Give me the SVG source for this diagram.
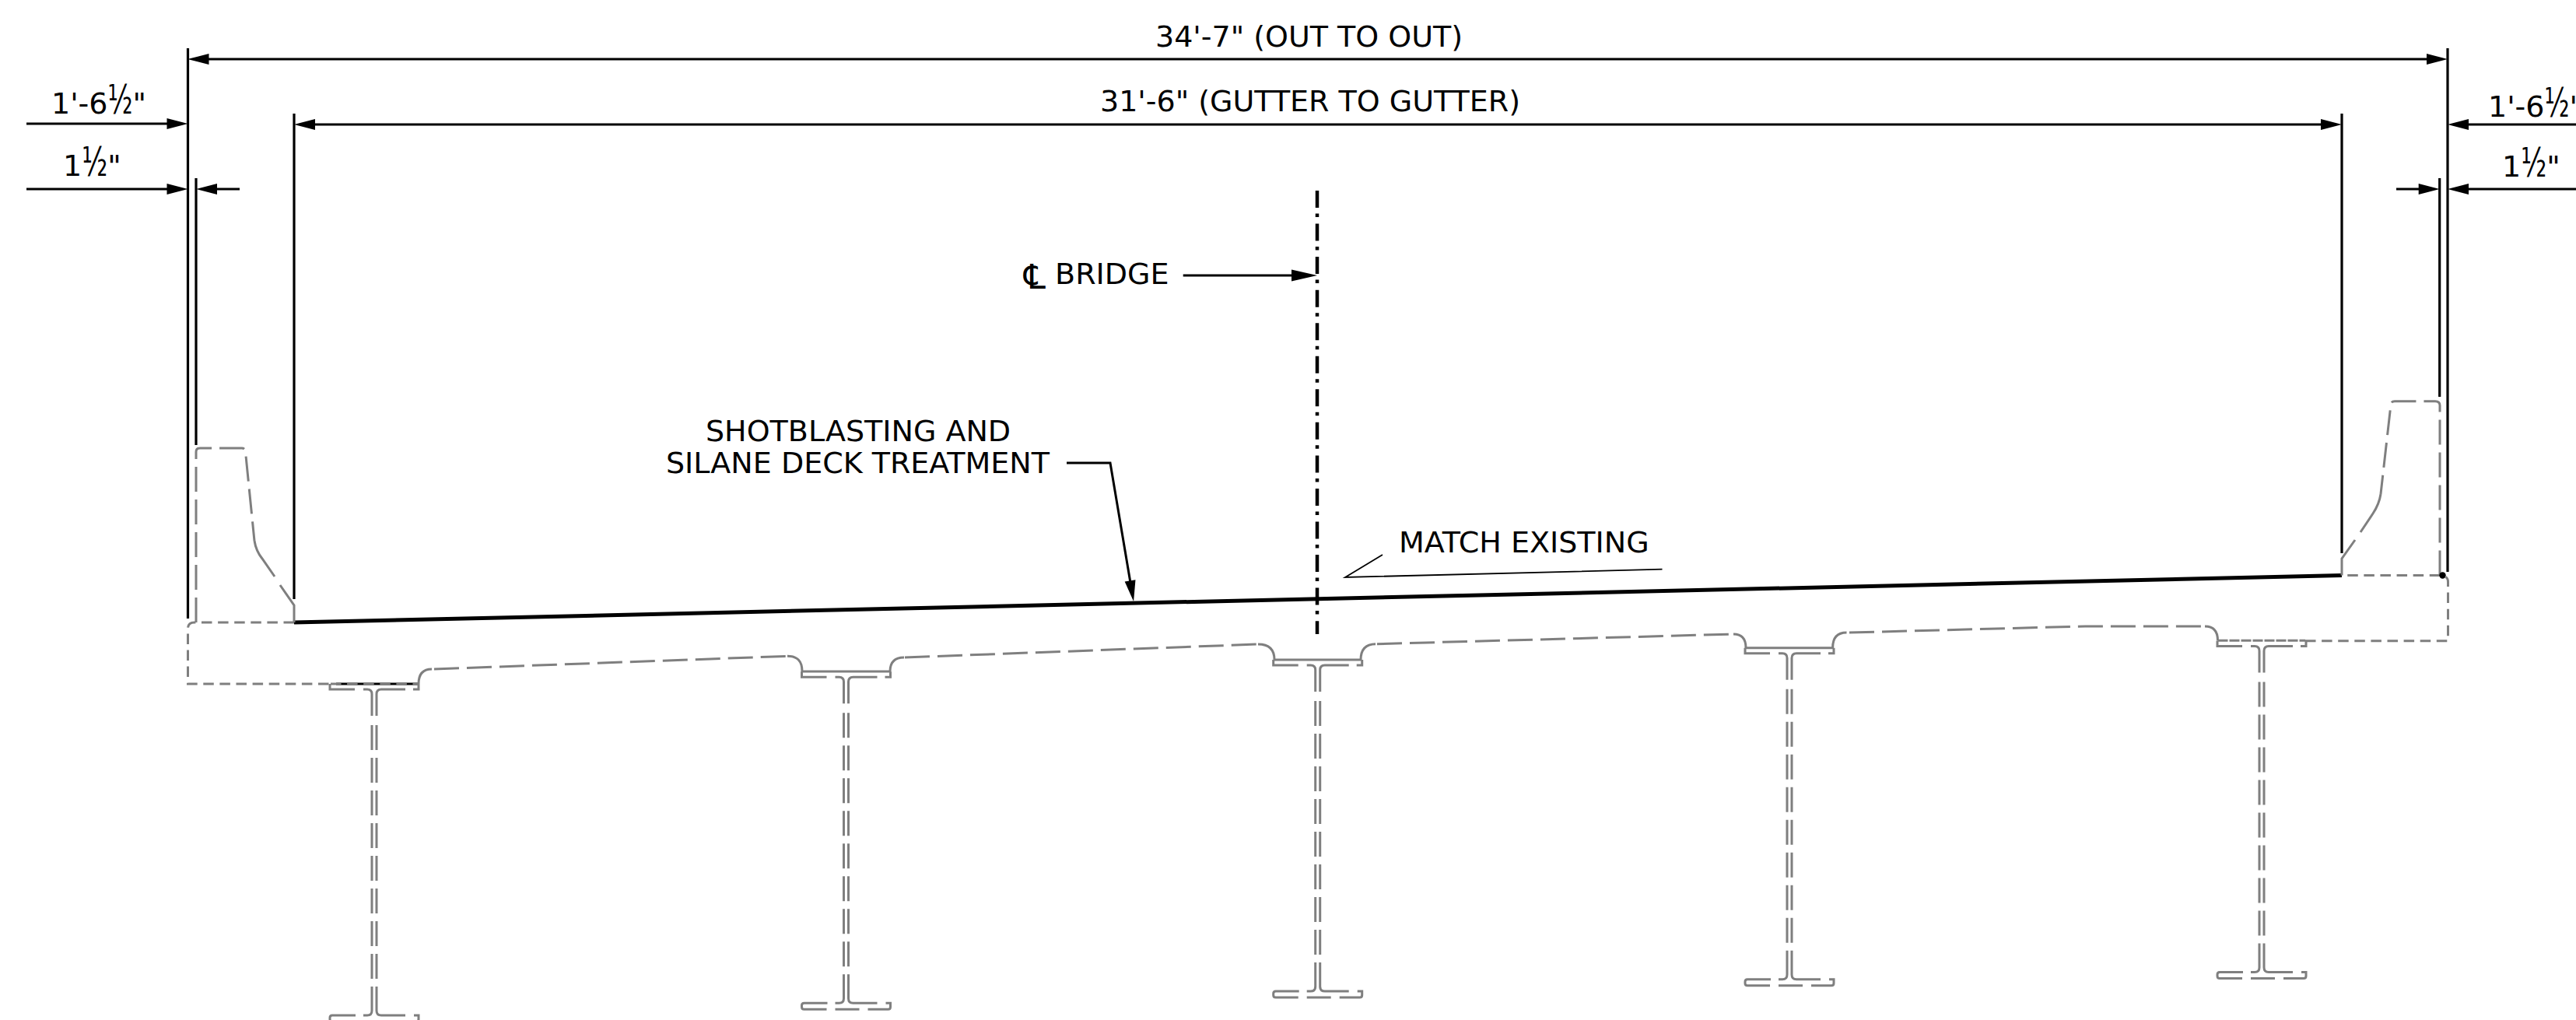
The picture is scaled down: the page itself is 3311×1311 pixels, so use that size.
<svg xmlns="http://www.w3.org/2000/svg" xmlns:xlink="http://www.w3.org/1999/xlink" width="3311" height="1311" viewBox="0 0 3311 1311">
<style>
text{font-family:"DejaVu Sans",sans-serif;font-size:38px;fill:#000}
.f{font-size:52px}
.c{font-size:44px}
.k{fill:none;stroke:#000;stroke-width:3.2}
.d{fill:none;stroke:#000;stroke-width:3;marker-end:url(#a)}
.dd{fill:none;stroke:#000;stroke-width:3;marker-end:url(#a);marker-start:url(#a)}
.g{fill:none;stroke:#7f7f7f;stroke-width:3}
.l{stroke-dasharray:32 10}
.s{stroke-dasharray:13.5 7.6}
</style>
<defs>
<marker id="a" markerUnits="userSpaceOnUse" orient="auto-start-reverse" markerWidth="40" markerHeight="16" viewBox="-30 -8 40 16" refX="0" refY="0"><path d="M10,0L-17,-7L-17,7Z" fill="#000"/></marker>
<marker id="b" markerUnits="userSpaceOnUse" orient="auto" markerWidth="44" markerHeight="18" viewBox="-34 -9 44 18" refX="0" refY="0"><path d="M10,0L-23,-7.5L-23,7.5Z" fill="#000"/></marker>
<g id="girder">
<path class="g" d="M-57,0V7H-25M-14,7H-9Q-3,7 -3,13V41M57,0V7H50M40,7H9Q3,7 3,13V41"/>
<path class="g l" d="M-3,53V389M3,53V389"/>
<path class="g" d="M-3,389V420Q-3,426 -9,426H-14M-24,426H-54Q-57,426 -57,429V431Q-57,434 -54,434H-25M-14,434H17M28,434H54Q57,434 57,431V426H51M40,426H9Q3,426 3,420V389"/>
</g>
</defs>
<g id="deck">
<line id="deck-surface" x1="378" y1="800" x2="3010" y2="739.5" stroke="#000" stroke-width="5"/>
<line x1="432" y1="879" x2="537" y2="879" stroke="#000" stroke-width="3"/>
<path id="left-parapet" class="g l" d="M252,800V581Q252,576 257,576H311Q315,576 315.5,581L327,695"/>
<path class="g" d="M327,695Q329,708 337,718L353,741"/>
<path class="g" d="M360,752L378,778V800"/>
<path class="g s" d="M378,800H250Q241.5,800 241.5,808V879H425"/>
<path class="g s" d="M425,879H538"/>
<path class="g" d="M538,879Q538,860 555,860"/>
<path class="g l" d="M558,860L1012,843.3"/>
<path class="g" d="M1012,843.3Q1031,843 1031,863H1144Q1144,845 1162,845"/>
<path class="g l" d="M1163,845L1617,828"/>
<path class="g" d="M1617,828Q1638,828 1638,848H1749Q1749,828 1768,827.7"/>
<path class="g l" d="M1770,827.7L2228,815"/>
<path class="g" d="M2228,815Q2244,815 2244,832.7H2355.6Q2355.6,813 2373.5,813"/>
<path class="g l" d="M2377,813L2680,805H2834"/>
<path class="g" d="M2834,805Q2850.5,805 2850.5,823.3"/>
<path class="g" stroke-dasharray="13 2" d="M2850.5,823.3H2963"/>
<path class="g s" d="M2963,823.7H3146.5V748Q3146.5,739.5 3136,739.5H3010"/>
<path id="right-parapet" class="g l" d="M3136,739.5V521Q3136,515.7 3130,515.7H3078Q3073.5,515.7 3073,520L3060,635"/>
<path class="g" d="M3060,635Q3058,648 3050,660L3034,684"/>
<path class="g" d="M3027,694L3010,718V739.5"/>
<circle cx="3139.5" cy="739.5" r="4.2" fill="#000"/>
</g>
<g id="girder-1"><use xlink:href="#girder" href="#girder" x="481" y="879"/></g>
<g id="girder-2"><use xlink:href="#girder" href="#girder" x="1087.5" y="863.3"/></g>
<g id="girder-3"><use xlink:href="#girder" href="#girder" x="1693.7" y="848"/></g>
<g id="girder-4"><use xlink:href="#girder" href="#girder" x="2300" y="832.7"/></g>
<g id="girder-5"><use xlink:href="#girder" href="#girder" x="2907" y="823.5"/></g>
<g id="connectors">
<path class="k" d="M241.5,62V795M252,229V572M378,146V770M3010,146V711M3135.7,229V510M3146,62V735"/>
<path class="dd" d="M251.5,76H3136"/>
<path class="dd" d="M388,160H3000"/>
<path class="d" d="M34,159H231.5"/>
<path class="d" d="M34,243H231.5"/>
<path class="d" d="M308,243H262"/>
<path class="d" d="M3311,160H3156"/>
<path class="d" d="M3311,243H3156"/>
<path class="d" d="M3080,243H3125.7"/>
<path class="d" style="marker-end:url(#b)" d="M1520.7,354H1683"/>
<path class="d" d="M1371,595H1427L1455.4,763.2"/>
<path d="M1777,713L1729,742L2136.5,731.7" fill="none" stroke="#000" stroke-width="1.8"/>
<line id="centerline" x1="1693" y1="245" x2="1693" y2="815" stroke="#000" stroke-width="4.5" stroke-dasharray="22 7.5 4.5 8.55"/>
</g>
<g id="labels">
<text x="1485" y="60">34'-7" (OUT TO OUT)</text>
<text x="1414" y="143">31'-6" (GUTTER TO GUTTER)</text>
<text x="66" y="146">1'-6<tspan class="f" textLength="32" lengthAdjust="spacingAndGlyphs">½</tspan>"</text>
<text x="81" y="226">1<tspan class="f" textLength="33" lengthAdjust="spacingAndGlyphs">½</tspan>"</text>
<text x="3198" y="150">1'-6<tspan class="f" textLength="32" lengthAdjust="spacingAndGlyphs">½</tspan>"</text>
<text x="3216" y="226.5">1<tspan class="f" textLength="33" lengthAdjust="spacingAndGlyphs">½</tspan>"</text>
<text x="1316" y="365"><tspan class="c" dy="6" textLength="28" lengthAdjust="spacingAndGlyphs">℄</tspan><tspan dy="-6"> BRIDGE</tspan></text>
<text x="907" y="567">SHOTBLASTING AND</text>
<text x="856" y="608">SILANE DECK TREATMENT</text>
<text x="1798" y="710">MATCH EXISTING</text>
</g>
</svg>
